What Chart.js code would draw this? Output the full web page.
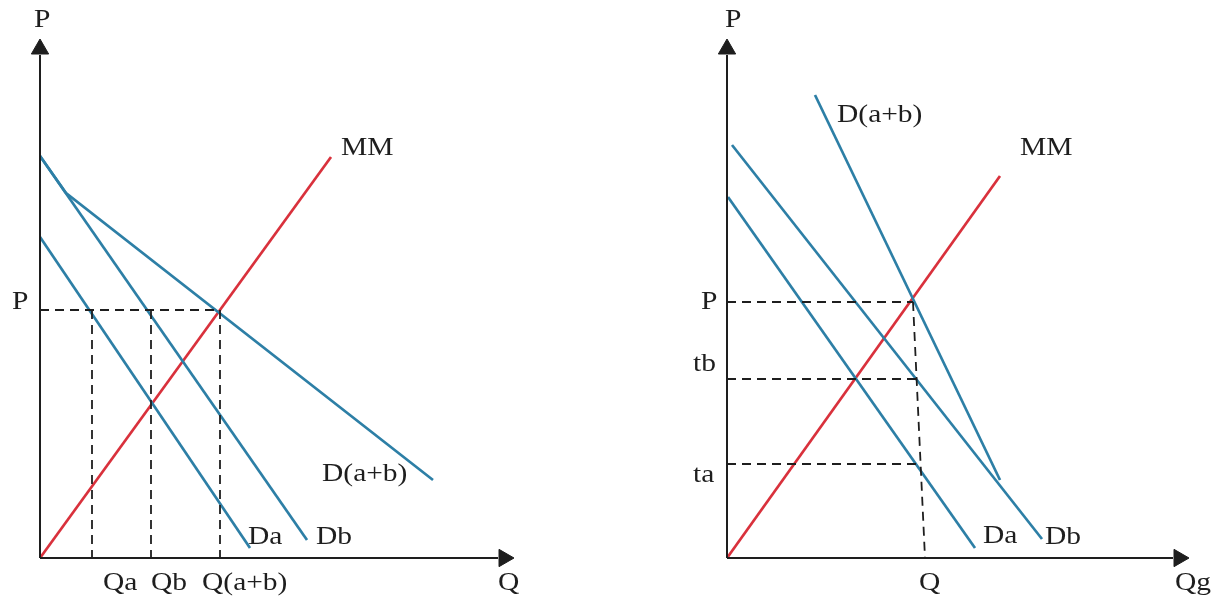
<!DOCTYPE html>
<html>
<head>
<meta charset="utf-8">
<script src="https://cdn.jsdelivr.net/npm/chart.js@4"></script>
<style>
  html, body { margin: 0; padding: 0; background: #fff; overflow: hidden; }
  #wrap { position: relative; width: 1217px; height: 599px; }
  .panel { position: absolute; top: 0; height: 599px; }
  #left { left: 0; width: 608px; }
  #right { left: 608px; width: 609px; }
</style>
</head>
<body>
<div id="wrap">
  <div class="panel" id="left"><canvas id="leftChart"></canvas></div>
  <div class="panel" id="right"><canvas id="rightChart"></canvas></div>
</div>
<script>
// values, origin at the axis crossing (x = Q, y = P)

// left panel
const leftMM = [{x: 0, y: 0}, {x: 291, y: 401}];
const leftDa = [{x: 0, y: 321}, {x: 210, y: 10}];
const leftDb = [{x: 0, y: 402}, {x: 267, y: 18}];
const leftDab = [{x: 0, y: 402}, {x: 26, y: 365}, {x: 393, y: 78}];
const leftP = 248;
const leftQ = {Qa: 52, Qb: 111, 'Q(a+b)': 180};
const leftAxisEnd = {x: 458, y: 503};

// right panel
const rightMM = [{x: 0, y: 0}, {x: 273, y: 382}];
const rightDa = [{x: 1, y: 361}, {x: 248, y: 10}];
const rightDb = [{x: 5, y: 413}, {x: 315, y: 19}];
const rightDab = [{x: 88, y: 463}, {x: 273, y: 78}];
const rightPrices = {P: 256, tb: 179, ta: 94};
const rightQ = [{x: 186, y: 256}, {x: 198, y: 0}];
const rightQx = {P: 186, tb: 190, ta: 193};
const rightAxisEnd = {x: 446, y: 503};

const BLUE = '#2d7fa6';
const RED = '#d9313c';
const INK = '#1e1e1e';
const FONT = '25px "Liberation Serif", "Times New Roman", serif';

function line(data, color, width, dash) {
  return {
    data: data,
    showLine: true,
    borderColor: color,
    borderWidth: width,
    borderDash: dash || [],
    pointRadius: 0,
    fill: false,
    clip: false
  };
}

function axes(end) {
  return [
    line([{x: 0, y: 0}, {x: 0, y: end.y}], INK, 2),
    line([{x: 0, y: 0}, {x: end.x, y: 0}], INK, 2),
    {
      data: [{x: 0, y: end.y + 6}, {x: end.x + 6, y: 0}],
      showLine: false,
      pointStyle: 'triangle',
      pointRadius: 10,
      pointRotation: [0, 90],
      backgroundColor: INK,
      borderColor: INK,
      borderWidth: 1,
      clip: false
    }
  ];
}

// text labels placed through the chart's scales
function labelPlugin(labels) {
  return {
    id: 'labels',
    afterDatasetsDraw(chart) {
      const ctx = chart.ctx;
      const xs = chart.scales.x, ys = chart.scales.y;
      ctx.save();
      ctx.fillStyle = INK;
      ctx.font = FONT;
      labels.forEach(l => {
        const px = xs.getPixelForValue(l.x) + (l.dx || 0);
        const py = ys.getPixelForValue(l.y) + (l.dy || 0);
        ctx.save();
        ctx.translate(px, py);
        ctx.scale(1.18, 1);
        ctx.textAlign = l.align || 'left';
        ctx.textBaseline = 'middle';
        ctx.fillText(l.text, 0, 0);
        ctx.restore();
      });
      ctx.restore();
    }
  };
}

function makeChart(id, datasets, xmin, xmax, labels) {
  return new Chart(document.getElementById(id), {
    type: 'scatter',
    data: {datasets: datasets},
    options: {
      responsive: true,
      maintainAspectRatio: false,
      animation: false,
      layout: {padding: 0, autoPadding: false},
      plugins: {legend: {display: false}, tooltip: {enabled: false}},
      scales: {
        x: {type: 'linear', min: xmin, max: xmax, display: false},
        y: {type: 'linear', min: -41, max: 558, display: false}
      }
    },
    plugins: [labelPlugin(labels)]
  });
}

// left chart
const leftDash = [];
leftDash.push(line([{x: 0, y: leftP}, {x: leftQ['Q(a+b)'], y: leftP}], INK, 1.8, [9, 6]));
Object.keys(leftQ).forEach(k => {
  leftDash.push(line([{x: leftQ[k], y: leftP}, {x: leftQ[k], y: 0}], INK, 1.8, [9, 6]));
});

makeChart('leftChart', [
  ...axes(leftAxisEnd),
  ...leftDash,
  line(leftDa, BLUE, 2.7),
  line(leftDb, BLUE, 2.7),
  line(leftDab, BLUE, 2.7),
  line(leftMM, RED, 2.7)
], -40, 568, [
  {text: 'P', x: 0, y: 540, dx: -6, dy: 2},
  {text: 'P', x: 0, y: leftP, dx: -28, dy: -8},
  {text: 'MM', x: leftMM[1].x, y: leftMM[1].y, dx: 10, dy: -9},
  {text: 'D(a+b)', x: leftDab[2].x, y: leftDab[2].y, dx: -111, dy: -6},
  {text: 'Da', x: leftDa[1].x, y: leftDa[1].y, dx: -2, dy: -11},
  {text: 'Db', x: leftDb[1].x, y: leftDb[1].y, dx: 9, dy: -3},
  {text: 'Qa', x: leftQ.Qa, y: 0, dx: 11, dy: 25},
  {text: 'Qb', x: leftQ.Qb, y: 0, dx: 0, dy: 25},
  {text: 'Q(a+b)', x: leftQ['Q(a+b)'], y: 0, dx: -18, dy: 25},
  {text: 'Q', x: leftAxisEnd.x, y: 0, dx: 0, dy: 25}
]);

// right chart
const rightDash = [];
Object.keys(rightPrices).forEach(k => {
  rightDash.push(line([{x: 0, y: rightPrices[k]}, {x: rightQx[k], y: rightPrices[k]}], INK, 1.8, [9, 6]));
});
rightDash.push(line(rightQ, INK, 1.8, [9, 6]));

makeChart('rightChart', [
  ...axes(rightAxisEnd),
  ...rightDash,
  line(rightDa, BLUE, 2.7),
  line(rightDb, BLUE, 2.7),
  line(rightDab, BLUE, 2.7),
  line(rightMM, RED, 2.7)
], -119, 490, [
  {text: 'P', x: 0, y: 540, dx: -2, dy: 2},
  {text: 'P', x: 0, y: rightPrices.P, dx: -26, dy: 0},
  {text: 'tb', x: 0, y: rightPrices.tb, dx: -34, dy: -15},
  {text: 'ta', x: 0, y: rightPrices.ta, dx: -34, dy: 11},
  {text: 'D(a+b)', x: rightDab[0].x, y: rightDab[0].y, dx: 22, dy: 20},
  {text: 'MM', x: rightMM[1].x, y: rightMM[1].y, dx: 20, dy: -28},
  {text: 'Da', x: rightDa[1].x, y: rightDa[1].y, dx: 8, dy: -12},
  {text: 'Db', x: rightDb[1].x, y: rightDb[1].y, dx: 3, dy: -2},
  {text: 'Q', x: rightQ[1].x, y: 0, dx: -6, dy: 25},
  {text: 'Qg', x: rightAxisEnd.x, y: 0, dx: 2, dy: 25}
]);
</script>
</body>
</html>
